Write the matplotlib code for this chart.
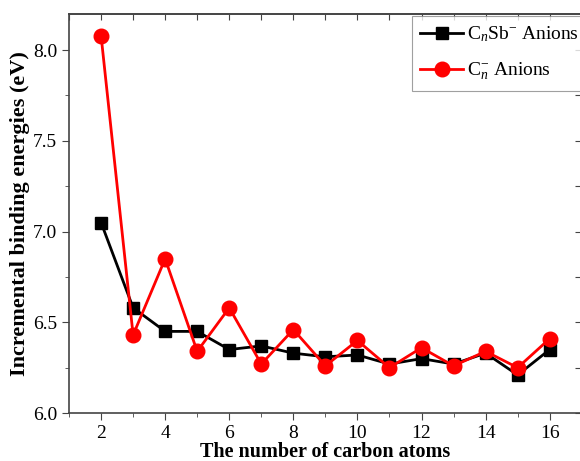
import matplotlib.pyplot as plt
from matplotlib.ticker import MultipleLocator

plt.rcParams['font.family'] = ['Liberation Serif', 'DejaVu Serif']
plt.rcParams['mathtext.fontset'] = 'custom'
plt.rcParams['mathtext.rm'] = 'Liberation Serif'
plt.rcParams['mathtext.it'] = 'Liberation Serif:italic'

# number of carbon atoms
n_atoms = [2, 3, 4, 5, 6, 7, 8, 9, 10, 11, 12, 13, 14, 15, 16]
# incremental binding energies (eV)
cnsb_anions = [7.05, 6.58, 6.45, 6.45, 6.35, 6.37, 6.33, 6.31, 6.32, 6.27, 6.30, 6.27, 6.33, 6.21, 6.35]
cn_anions = [8.08, 6.43, 6.85, 6.34, 6.58, 6.27, 6.46, 6.26, 6.40, 6.25, 6.36, 6.26, 6.34, 6.25, 6.41]

fig = plt.figure(figsize=(5.8, 4.61), dpi=100)
ax = fig.add_axes([0.119, 0.104, 0.884, 0.866])

ax.plot(n_atoms, cnsb_anions, color='black', marker='s', markersize=9, linewidth=2,
        label=r'C$_n$Sb$^{\mathregular{-}}$ Anions')
ax.plot(n_atoms, cn_anions, color='red', marker='o', markersize=10.5, linewidth=2,
        label=r'C$_n^{\mathregular{-}}$ Anions')

ax.set_xlim(1, 17)
ax.set_ylim(6.0, 8.2)
ax.xaxis.set_major_locator(MultipleLocator(2))
ax.xaxis.set_minor_locator(MultipleLocator(1))
ax.yaxis.set_major_locator(MultipleLocator(0.5))
ax.yaxis.set_minor_locator(MultipleLocator(0.25))

# outward ticks on bottom/left, inward ticks on top/right
ax.tick_params(axis='both', which='both', labelsize=14, color='#444444', direction='out')
ax.tick_params(which='major', length=5)
ax.tick_params(which='minor', length=3)
ax2 = ax.secondary_xaxis('top')
ax2.xaxis.set_major_locator(MultipleLocator(1))
ax2.tick_params(direction='in', length=4, labeltop=False, color='#444444')
ax3 = ax.secondary_yaxis('right')
ax3.yaxis.set_major_locator(MultipleLocator(0.25))
ax3.tick_params(direction='in', length=5, labelright=False, color='#444444')
for a in (ax2, ax3):
    for s in a.spines.values():
        s.set_linewidth(1.2)
        s.set_color('#444444')

for s in ax.spines.values():
    s.set_linewidth(1.2)
    s.set_color('#444444')

ax.set_xlabel('The number of carbon atoms', fontsize=14.5, fontweight='bold', labelpad=0)
ax.set_ylabel('Incremental binding energies (eV)', fontsize=16, fontweight='bold', labelpad=2)

leg = ax.legend(loc='upper left', bbox_to_anchor=(0.668, 0.995), fontsize=14, fancybox=False,
                edgecolor='#888888', handlelength=2.2, borderpad=0.45, labelspacing=0.85,
                handletextpad=0.2, borderaxespad=0.0)
leg.get_frame().set_linewidth(0.8)

fig.savefig('out.png', dpi=100)
